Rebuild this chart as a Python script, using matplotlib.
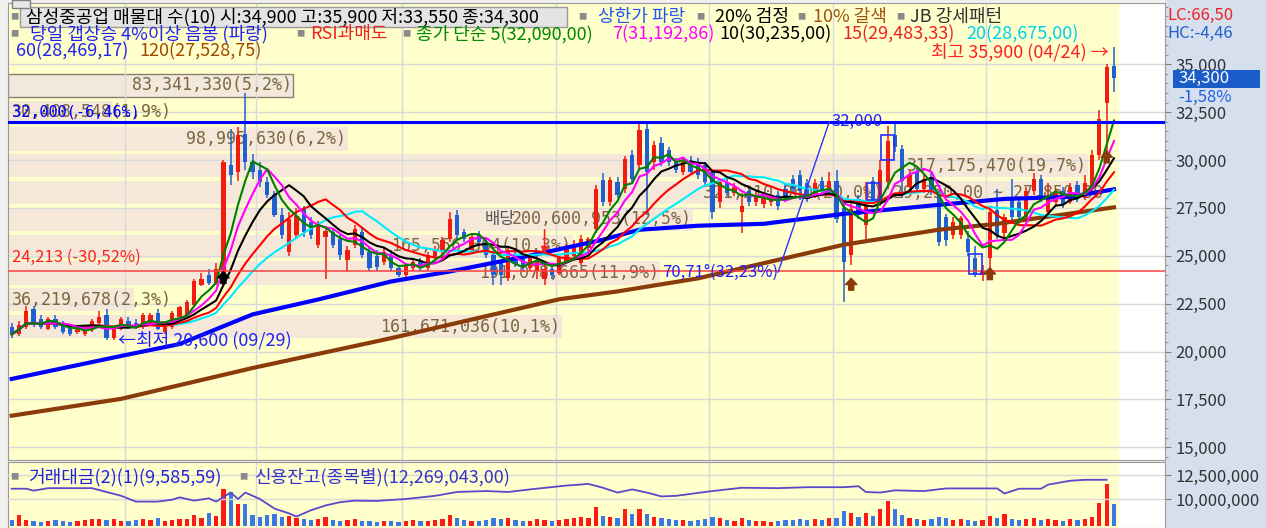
import numpy as np
import pandas as pd
import matplotlib
matplotlib.use("Agg")
import matplotlib.pyplot as plt
from matplotlib.patches import Rectangle
from matplotlib.path import Path

plt.rcParams["font.family"] = ["Noto Sans CJK KR", "DejaVu Sans"]

# === daily candles (KRW), oldest -> newest ===
opens = [21300, 20900, 21300, 22200, 21700, 21200, 21700, 21400, 21300, 21000,
         20900, 21100, 21500, 21900, 20700, 21200, 21600, 21500, 21300, 21500,
         22000, 21000, 21300, 21800, 21900, 22430, 23500, 24000, 23600, 23800,
         29740, 29370, 31340, 29890, 29500, 28850, 28170, 27140, 25200, 26100,
         27450, 26780, 25580, 26000, 26250, 25900, 24800, 25580, 26250, 25200,
         25000, 24700, 25060, 24350, 24000, 24350, 24700, 24350, 25000, 25200,
         25900, 27140, 26250, 25300, 26100, 25700, 25060, 24600, 23840, 25050,
         24900, 24350, 24200, 23800, 24300, 24100, 24700, 25000, 24600, 25400,
         26400, 28950, 27800, 28850, 28480, 30250, 29730, 31600, 29890, 30900,
         30500, 29900, 29400, 29900, 29900, 29740, 29370, 27800, 28800, 28300,
         27300, 28400, 27800, 27700, 27800, 28200, 28500, 29000, 29200, 28800,
         28200, 28900, 28300, 28900, 27500, 25060, 27960, 26600, 28900, 27800,
         28850, 31300, 30600, 28600, 29370, 28500, 29100, 28170, 27000, 26100,
         26100, 25900, 24860, 24000, 24860, 27400, 26200, 27900, 27800, 27000,
         28400, 29000, 27300, 27800, 28400, 27800, 28700, 28000, 28500, 30250,
         33000, 34900]
highs = [21500, 21600, 22400, 22400, 21900, 21800, 21900, 21600, 21400, 21300,
         21200, 21700, 22100, 22200, 21300, 21800, 21800, 21700, 22000, 22000,
         22200, 21500, 22100, 22400, 22700, 23800, 24100, 24300, 24600, 30000,
         31600, 31700, 33500, 30300, 29900, 29100, 28400, 27500, 27300, 27500,
         27600, 27000, 26800, 26500, 26400, 26100, 25500, 26600, 26500, 25400,
         25300, 25400, 25300, 24500, 24600, 24900, 24900, 25200, 25500, 26000,
         27300, 27400, 26400, 26200, 26300, 25900, 25200, 24800, 25400, 25300,
         25100, 25100, 25000, 24500, 24500, 25000, 25600, 25800, 26100, 26000,
         28700, 29300, 29100, 29100, 30200, 30500, 32000, 32000, 31000, 31200,
         30700, 30100, 30100, 30200, 30100, 29900, 29500, 29000, 29100, 28800,
         28300, 28600, 28400, 28200, 28200, 28400, 28800, 29200, 29500, 29000,
         29000, 29100, 29400, 29500, 27800, 27900, 28200, 28850, 29100, 30000,
         31800, 32000, 30800, 29500, 29600, 29200, 29300, 28400, 27200, 27000,
         27100, 26300, 25500, 24500, 27400, 28500, 27200, 29000, 28000, 28600,
         29300, 29200, 28800, 28500, 28600, 28800, 28900, 29200, 30500, 32600,
         35000, 35900]
lows = [20700, 20800, 21200, 21300, 21200, 21100, 21200, 20900, 20800, 20900,
        20800, 21000, 21400, 20600, 20600, 21100, 21200, 21200, 21200, 21400,
        21100, 20900, 21200, 21700, 21800, 22300, 23400, 23500, 23500, 23500,
        28700, 28900, 29500, 29000, 28600, 28000, 27000, 25900, 25000, 25900,
        26000, 25900, 25400, 23800, 25400, 24800, 24200, 25400, 24900, 24200,
        24200, 24500, 24200, 23900, 23800, 24200, 24200, 24200, 24800, 25000,
        25700, 25900, 25700, 25200, 25500, 24900, 23500, 23450, 23700, 24400,
        24200, 24200, 23800, 23500, 23800, 24000, 24600, 24900, 24500, 25200,
        26200, 27600, 27600, 28000, 28300, 28800, 29500, 27130, 29500, 29700,
        29700, 29300, 29200, 29200, 29000, 28600, 26900, 27500, 28100, 28100,
        26200, 27600, 27600, 27500, 27600, 27400, 27800, 28300, 27900, 27800,
        28000, 28200, 28100, 26700, 22600, 24500, 26900, 25700, 27700, 27600,
        28500, 30400, 28000, 28400, 28300, 28300, 28200, 25500, 25500, 25900,
        25900, 25000, 23900, 23700, 24000, 25900, 26000, 26800, 26600, 26900,
        28200, 27800, 27200, 27600, 27500, 27700, 27800, 27900, 28300, 30000,
        30300, 33550]
closes = [20900, 21400, 22100, 21500, 21300, 21700, 21300, 21000, 20900, 21200,
          21100, 21600, 21800, 20700, 21200, 21700, 21300, 21300, 21900, 21900,
          21200, 21300, 22000, 22300, 22600, 23660, 23800, 23600, 24300, 29900,
          29220, 31290, 29890, 29370, 28850, 28170, 27140, 26100, 26930, 27100,
          26250, 26100, 26620, 26300, 25580, 25060, 25320, 26400, 25060, 24350,
          24400, 25220, 24350, 24000, 24500, 24700, 24350, 25050, 25300, 25800,
          26900, 26100, 25900, 26000, 25700, 25050, 24000, 24000, 25220, 24550,
          24350, 24900, 24800, 24300, 24000, 24900, 25400, 25600, 25900, 25900,
          28480, 27800, 28950, 28170, 30040, 29000, 31550, 29370, 30770, 29900,
          29900, 29500, 29900, 29400, 29200, 28850, 27300, 28850, 28300, 28600,
          27600, 27800, 28200, 28000, 28000, 27600, 28000, 28500, 28400, 28000,
          28800, 28400, 28900, 26900, 24700, 27450, 27140, 27600, 27900, 29500,
          31000, 30700, 28900, 29200, 28500, 29000, 28400, 25730, 25800, 26780,
          26950, 25220, 24020, 24200, 27300, 26100, 27000, 27000, 27000, 28400,
          29000, 28100, 28000, 28300, 27700, 28600, 28000, 28800, 30250, 32130,
          34850, 34300]

# 거래대금 bars
turnover = [2600, 4800, 2600, 2200, 1700, 2200, 2600, 2200, 1700, 2200,
            2600, 3100, 3100, 2600, 3100, 2200, 2200, 2600, 3100, 2600,
            3500, 2200, 2600, 3100, 3100, 4800, 3500, 5700, 4400, 16100,
            14800, 9600, 9600, 4800, 3900, 4800, 5200, 3900, 4400, 3500,
            3100, 2600, 3100, 3900, 2600, 2200, 2600, 3100, 2200, 2200,
            1700, 2200, 2200, 1700, 2200, 2600, 2200, 2200, 2600, 3100,
            4800, 3500, 2600, 2200, 2200, 2600, 3500, 3100, 3500, 2600,
            2200, 2200, 3100, 2600, 2200, 2600, 3100, 3500, 3900, 3500,
            8300, 4400, 3900, 3500, 7400, 5200, 7400, 5200, 3900, 3500,
            3100, 2600, 2600, 2200, 2600, 3100, 3900, 3500, 2600, 2200,
            3500, 2600, 2200, 2200, 1700, 2200, 2600, 2600, 3100, 2600,
            3100, 2600, 3500, 3500, 6500, 5700, 3900, 5700, 4400, 7400,
            10900, 7400, 4800, 3500, 3100, 2600, 3100, 3900, 3500, 2600,
            3100, 2600, 2200, 2600, 4400, 3500, 5200, 3100, 2600, 3100,
            3500, 2600, 3100, 2600, 2200, 3100, 2600, 3100, 3900, 10000,
            18300, 9586]

# long moving averages (history starts before the window)
ma60_idx = [0, 15, 23, 33, 42, 52, 60, 71, 81, 86, 94, 103, 114, 127, 136, 145, 151]
ma60_val = [18570, 19770, 20390, 21940, 22720, 23660, 24180, 25010, 25840, 26360,
            26570, 26670, 27190, 27660, 27970, 28080, 28470]
ma120_idx = [0, 15, 33, 52, 75, 83, 94, 114, 127, 135, 151]
ma120_val = [16650, 17530, 19140, 20700, 22730, 23140, 23820, 25580, 26360, 26670, 27530]

# 신용잔고 line
credit_idx = [0, 2, 3, 5, 11, 12, 15, 17, 20, 22, 23, 25, 27, 28, 30, 31, 32, 34, 36, 38,
              39, 41, 43, 45, 47, 50, 54, 58, 61, 65, 68, 71, 76, 79, 81, 83, 85, 87, 89, 91,
              96, 100, 105, 109, 114, 116, 117, 119, 121, 125, 128, 131, 135, 136, 138, 141,
              142, 145, 147, 150]
credit_val = [11070000, 11070000, 10870000, 11130000, 11130000, 10930000, 10330000, 9730000,
              9730000, 9930000, 10170000, 9830000, 10070000, 9730000, 10670000, 10000000,
              10670000, 10000000, 9000000, 8500000, 8170000, 8830000, 9330000, 9670000,
              9830000, 9800000, 10000000, 10330000, 10730000, 10830000, 10730000, 11000000,
              11400000, 11570000, 11170000, 10670000, 11000000, 10670000, 10270000, 10330000,
              10830000, 11170000, 11130000, 11230000, 11230000, 11330000, 10730000, 10670000,
              10900000, 10830000, 11100000, 11100000, 11100000, 10570000, 11070000, 11070000,
              11500000, 11900000, 12000000, 12000000]

# 매물대 (volume profile), bottom band first
vp_low = 20600
vp_step = 1400
vp_pct = [10.1, 2.3, 11.9, 10.3, 12.5, 20.0, 19.7, 6.2, 1.9, 5.2]
vp_text = ["161,671,036(10,1%)", "36,219,678(2,3%)", "191,078,665(11,9%)",
           "165,556,364(10,3%)", "200,600,953(12,5%)",
           "321,210,960(20,0%) 29,250,00 ~ 27,850,00", "317,175,470(19,7%)",
           "98,995,630(6,2%)", "30,408,548(1,9%)", "83,341,330(5,2%)"]

month_breaks = [15.5, 33.5, 53.5, 74.5, 95.5, 112.5, 133.5]
support_price = 24213
resist_price = 32000
trend_idx = [105, 112]
trend_price = [24150, 32000]
signal_idx = [29, 115, 134, 150]
signal_price = [23850, 23500, 24050, 30150]
signal_color = ["black", "#8b3a0a", "#8b3a0a", "#8b3a0a"]
box_idx = [118, 120, 132]
box_lo = [27900, 30000, 24050]
box_hi = [28800, 31300, 25100]
div_idx = 73
low_idx, low_price = 14, 20600
high_idx, high_price = 151, 35900

# ---------------------------------------------------------------
W, H = 1266, 528
RED, BLUE = "#f21b10", "#1f5fd0"
YELLOW = "#ffffcc"
GRID = "#d9d9d9"
BAND = "#f5e8d8"
BAND_TXT = "#7a6640"

fig = plt.figure(figsize=(W / 100, H / 100), dpi=100, facecolor="#f0f0f0")


def fx(px):
    return px / W


def fy(py):
    return 1 - py / H


def ftext(px, py, s, **kw):
    fig.text(fx(px), fy(py), s, va="center", ha="left", **kw)


fig.add_artist(Rectangle((fx(1165), 0), 1 - fx(1165), 1, transform=fig.transFigure,
                         facecolor="#d5dfee", edgecolor="none", zorder=-1))

ax = fig.add_axes([fx(8), fy(460), fx(1165) - fx(8), fy(3) - fy(460)])
ax2 = fig.add_axes([fx(8), fy(528), fx(1165) - fx(8), fy(462) - fy(528)])

x0, x1 = -0.507, 157.99
ax.set_xlim(x0, x1)
ax.set_ylim(14336, 38201)
ax.set_facecolor("white")
ax.axvspan(x0, 151.55, color=YELLOW, zorder=0)

o = np.array(opens)
h = np.array(highs)
l = np.array(lows)
c = np.array(closes)
x = np.arange(len(c))
cols = [RED if cc >= oo else BLUE for oo, cc in zip(o, c)]

# volume profile bands
K = 7.51
for k, (p, t) in enumerate(zip(vp_pct, vp_text)):
    lo = vp_low + k * vp_step
    mid = lo + vp_step / 2
    cur = lo <= c[-1] < lo + vp_step
    ax.barh(mid, p * K, left=x0, height=vp_step * 0.86,
            color="#f2e8dc" if cur else BAND,
            edgecolor="#8a7f70" if cur else "none", lw=1, zorder=1)
    if p < 3:
        ax.text(0.0, mid, t, ha="left", va="center", fontsize=12,
                family="DejaVu Sans Mono", color=BAND_TXT, zorder=2)
    else:
        ax.text(x0 + p * K - 0.2, mid, t, ha="right", va="center", fontsize=12,
                family="DejaVu Sans Mono", color=BAND_TXT, zorder=2)

for yv in range(15000, 35001, 2500):
    ax.axhline(yv, color=GRID, lw=1, zorder=1.5)
for m in month_breaks:
    ax.axvline(m, color=GRID, lw=1, zorder=1.5)

# candles
ax.vlines(x, l, h, colors=cols, lw=1.1, zorder=3)
ax.bar(x, np.maximum(np.abs(c - o), 60), bottom=np.minimum(o, c), width=0.58,
       color=cols, zorder=3)

# moving averages
ax.plot(ma120_idx, ma120_val, color="#8b3a0a", lw=3, zorder=3.5)
ax.plot(ma60_idx, ma60_val, color="#0000ff", lw=3, zorder=3.5)
s = pd.Series(c, dtype=float)
for n, col in [(20, "#00eaff"), (15, "#ff0000"), (10, "black"), (7, "#ff00ff"), (5, "#008000")]:
    ax.plot(x, s.rolling(n, min_periods=1).mean(), color=col, lw=1.5, zorder=4)

# lines and labels
ax.axhline(resist_price, color="#0000ff", lw=2.2, zorder=4)
ax.axhline(support_price, color="#ff4040", lw=1.1, zorder=4)
ax.text(0.0, resist_price + 500, "32,000(-6,46%)", ha="left", va="center", fontsize=11,
        family="DejaVu Sans Mono", color="#0000ff", zorder=5)
ax.text(0.0, support_price + 250, "24,213 (-30,52%)", ha="left", va="bottom",
        fontsize=12, color="#ff2020", zorder=5)

ax.plot(trend_idx, trend_price, color="#3030ff", lw=1, zorder=5)
ax.text(trend_idx[0], trend_price[0], "70,71°(32,23%)", ha="right", va="center",
        fontsize=12, color="#2020ff", zorder=5)
ax.text(trend_idx[1] + 0.3, trend_price[1], "32,000", ha="left", va="center",
        fontsize=12, color="#2020ff", zorder=5)

ax.text(64.8, vp_low + 4.5 * vp_step, "배당", ha="left", va="center", fontsize=12,
        color="#555555", zorder=2)
ax.annotate("", xy=(div_idx, 24950), xytext=(div_idx, 26500),
            arrowprops=dict(arrowstyle="-|>", color="#ff2020", lw=1.2), zorder=5)

arrow = Path([(-1, 0), (0, 1.1), (1, 0), (0.45, 0), (0.45, -1), (-0.45, -1), (-0.45, 0), (-1, 0)],
             [Path.MOVETO] + [Path.LINETO] * 6 + [Path.CLOSEPOLY])
ax.scatter(signal_idx, signal_price, marker=arrow, s=80, c=signal_color, zorder=6)

for bi, blo, bhi in zip(box_idx, box_lo, box_hi):
    ax.add_patch(Rectangle((bi - 0.9, blo), 1.8, bhi - blo, fill=False,
                           edgecolor="#2030ff", lw=1.2, zorder=6))

ax.text(low_idx + 0.6, low_price, "←최저 20,600 (09/29)", ha="left", va="center",
        fontsize=13, color="#2020ff", zorder=6)
ax.text(high_idx - 0.8, high_price - 250, "최고 35,900 (04/24) →", ha="right",
        va="center", fontsize=13, color="#ff2020", zorder=6)

# price axis on the right
ax.set_xticks([])
ax.yaxis.tick_right()
ax.set_yticks(range(15000, 35001, 2500))
ax.set_yticklabels([f"{v:,}" for v in range(15000, 35001, 2500)])
ax.set_yticks(range(14500, 38001, 500), minor=True)
ax.tick_params(axis="y", which="major", length=4.5, color="#808080", labelsize=12,
               labelcolor="#333333", pad=3)
ax.tick_params(axis="y", which="minor", length=2.5, color="#808080")
for sp in ax.spines.values():
    sp.set_color("#9a9a9a")

# lower panel: turnover bars + credit balance
ax2.set_xlim(x0, x1)
ax2.set_ylim(-900, 28000)
ax2.set_facecolor("white")
ax2.axvspan(x0, 151.55, color=YELLOW, zorder=0)
for m in month_breaks:
    ax2.axvline(m, color=GRID, lw=1, zorder=0.5)
vcols = ["#ff1a1a" if cc >= oo else "#3a78e6" for oo, cc in zip(o, c)]
ax2.bar(x, turnover, width=0.58, color=vcols, zorder=2)
ax2.set_xticks([])
ax2.set_yticks([])
for sp in ax2.spines.values():
    sp.set_color("#9a9a9a")

ax3 = ax2.twinx()
ax3.set_ylim(6979000, 13854000)
ax3.axhline(10000000, color=GRID, lw=1, zorder=0.5)
ax3.axhline(12500000, color=GRID, lw=1, zorder=0.5)
ax3.plot(credit_idx, credit_val, color="#5a48c8", lw=1.3, zorder=3)
ax3.set_yticks([10000000, 12500000])
ax3.set_yticklabels(["10,000,000", "12,500,000"])
ax3.tick_params(axis="y", length=4.5, color="#808080", labelsize=12,
                labelcolor="#333333", pad=3)
for sp in ax3.spines.values():
    sp.set_visible(False)

# header legend
fig.add_artist(Rectangle((fx(20), fy(27)), fx(547), 20 / H, transform=fig.transFigure,
                         facecolor="#e4e4e4", edgecolor="#9a9a9a", lw=1, zorder=2))
fig.add_artist(Rectangle((fx(12), fy(8)), fx(18), 8 / H, transform=fig.transFigure,
                         facecolor="#e8e8e8", edgecolor="#808080", lw=1, zorder=2))
sq = dict(fontsize=6, color="#8a8a8a")
for px, py in [(10, 17), (578, 17), (696, 17), (797, 17), (896, 17),
               (10, 34), (296, 34), (402, 34), (10, 477), (239, 477)]:
    ftext(px, py, "■", **sq)

hd = dict(fontsize=13)
ftext(26, 17, "삼성중공업 매물대 수(10) 시:34,900 고:35,900 저:33,550 종:34,300", color="black", **hd)
ftext(598, 17, "상한가 파랑", color="#2255ee", **hd)
ftext(715, 17, "20% 검정", color="black", **hd)
ftext(813, 17, "10% 갈색", color="#a05010", **hd)
ftext(910, 17, "JB 강세패턴", color="#303030", **hd)

ftext(30, 34, "당일 갭상승 4%이상 음봉 (파랑)", color="#2222ee", **hd)
ftext(310, 34, "RSI과매도", color="#ee2222", **hd)
ftext(416, 34, "종가 단순 5(32,090,00)", color="#008800", **hd)
ftext(612, 34, "7(31,192,86)", color="#ff00ff", **hd)
ftext(719, 34, "10(30,235,00)", color="black", **hd)
ftext(842, 34, "15(29,483,33)", color="#ee2222", **hd)
ftext(966, 34, "20(28,675,00)", color="#00d0f0", **hd)

ftext(16, 51, "60(28,469,17)", color="#2222ee", **hd)
ftext(139, 51, "120(27,528,75)", color="#a04a00", **hd)

ftext(28, 477, "거래대금(2)(1)(9,585,59)", color="#2222dd", **hd)
ftext(255, 477, "신용잔고(종목별)(12,269,043,00)", color="#3333cc", **hd)

# right panel extras
ftext(1167, 15, "LC:66,50", fontsize=12, color="#ee2222")
ftext(1167, 33, "HC:-4,46", fontsize=12, color="#2060d0")
fig.add_artist(Rectangle((fx(1173), fy(88)), fx(87), 18 / H, transform=fig.transFigure,
                         facecolor="#1a5cc8", edgecolor="none", zorder=2))
ftext(1178, 78.5, "34,300", fontsize=12, color="white", zorder=3)
ftext(1178, 97, "-1,58%", fontsize=12, color="#2060e0")

fig.savefig("out.png", dpi=100, facecolor=fig.get_facecolor())
